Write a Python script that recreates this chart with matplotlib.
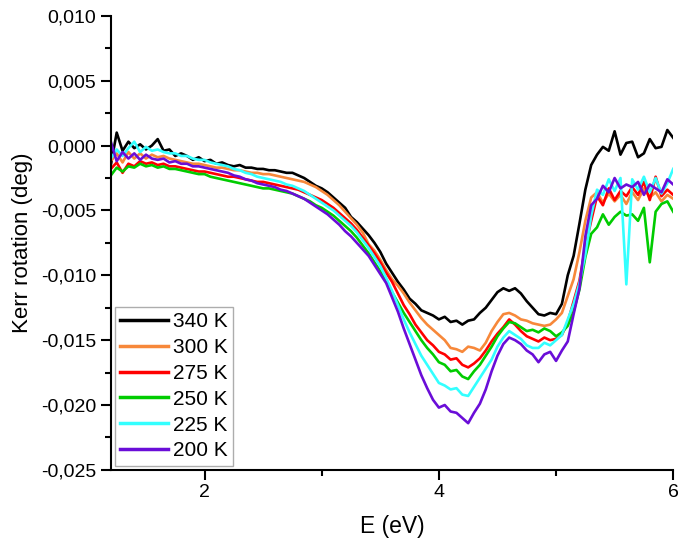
import numpy as np
import matplotlib
matplotlib.use("Agg")
import matplotlib.pyplot as plt
from matplotlib.ticker import MultipleLocator, FuncFormatter

plt.rcParams['font.family'] = ['Liberation Sans', 'DejaVu Sans']

# Photon energy grid (eV), 0.05 eV steps from 1.20 to 6.00
energy = np.round(np.arange(1.20, 6.0001, 0.05), 2)

# Kerr rotation in mdeg for each temperature
kerr_340 = [
    -1.5, 1.0, -0.4, 0.3, -0.2, 0.1, -0.3, 0.0, 0.5, -0.4,
    -0.3, -0.8, -0.6, -0.8, -1.1, -0.9, -1.2, -1.1, -1.4, -1.3,
    -1.5, -1.6, -1.5, -1.7, -1.7, -1.8, -1.8, -1.9, -1.9, -2.0,
    -2.1, -2.1, -2.3, -2.5, -2.8, -3.1, -3.3, -3.6, -4.0, -4.4,
    -4.8, -5.5, -5.9, -6.4, -6.9, -7.5, -8.2, -9.1, -9.8, -10.5,
    -11.1, -11.8, -12.2, -12.7, -12.9, -13.1, -13.4, -13.2, -13.6, -13.5,
    -13.8, -13.5, -13.4, -12.9, -12.5, -11.9, -11.3, -11.0, -11.2, -11.0,
    -11.4, -12.0, -12.5, -13.0, -13.1, -12.9, -13.0, -12.2, -10.0, -8.5,
    -6.0, -3.4, -1.5, -0.7, -0.1, -0.4, 1.1, -0.7, 0.2, 0.3,
    -0.9, -0.6, 0.5, -0.2, -0.1, 1.2, 0.6,
]
kerr_300 = [
    -1.2, -0.6, -1.3, -0.5, -1.0, -0.6, -1.0, -0.7, -0.9, -0.8,
    -1.0, -1.1, -1.2, -1.3, -1.4, -1.4, -1.5, -1.6, -1.7, -1.7,
    -1.8, -1.9, -1.9, -2.0, -2.1, -2.1, -2.2, -2.2, -2.3, -2.4,
    -2.5, -2.6, -2.7, -2.8, -3.0, -3.2, -3.5, -3.8, -4.2, -4.6,
    -5.1, -5.6, -6.1, -6.7, -7.6, -8.1, -8.8, -9.6, -10.3, -10.8,
    -11.4, -12.1, -12.7, -13.3, -13.8, -14.2, -14.6, -15.0, -15.6, -15.7,
    -15.9, -15.5, -15.6, -15.8, -15.2, -14.3, -13.6, -13.0, -12.9, -13.1,
    -13.4, -13.5, -13.7, -13.8, -13.9, -13.8, -13.4, -12.9, -11.6, -10.3,
    -8.2, -5.8, -4.0, -3.6, -4.4, -3.7, -4.3, -3.8, -4.5, -3.6,
    -4.2, -3.3, -4.0, -3.6, -4.3, -3.8, -4.1,
]
kerr_275 = [
    -1.8, -1.3, -2.1, -1.4, -1.6, -1.2, -1.4, -1.3, -1.5, -1.4,
    -1.6, -1.6, -1.7, -1.8, -1.9, -2.0, -2.0, -2.1, -2.2, -2.3,
    -2.4, -2.4, -2.5, -2.6, -2.7, -2.8, -2.8, -2.9, -3.0, -3.1,
    -3.2, -3.3, -3.4, -3.6, -3.8, -4.0, -4.2, -4.5, -4.8, -5.2,
    -5.6, -6.0, -6.5, -7.1, -7.7, -8.3, -9.0, -9.8, -10.5, -11.4,
    -12.3, -13.0, -13.8, -14.4, -15.0, -15.4, -15.9, -16.1, -16.5, -16.4,
    -16.9, -17.1, -16.8, -16.4, -15.8, -15.1, -14.5, -14.0, -13.4, -13.8,
    -14.3, -14.7, -14.9, -15.1, -14.8, -15.0, -14.9, -14.6, -13.6, -12.0,
    -10.4, -7.8, -5.8, -3.9, -4.6, -3.3, -4.2, -3.5, -3.9, -3.2,
    -3.8, -2.8, -4.2, -2.4, -3.9, -3.4, -3.8,
]
kerr_250 = [
    -2.3, -1.7, -2.0, -1.6, -1.7, -1.4, -1.6, -1.5, -1.7, -1.6,
    -1.8, -1.8, -1.9, -2.0, -2.1, -2.2, -2.2, -2.4, -2.5, -2.6,
    -2.7, -2.8, -2.9, -3.0, -3.1, -3.2, -3.3, -3.3, -3.4, -3.5,
    -3.6, -3.7, -3.9, -4.1, -4.3, -4.6, -4.8, -5.1, -5.4, -5.8,
    -6.2, -6.6, -7.1, -7.7, -8.3, -9.0, -9.7, -10.5, -11.3, -12.1,
    -12.9, -13.6, -14.3, -15.0, -15.6, -16.1, -16.7, -16.9, -17.4, -17.3,
    -17.8, -18.0, -17.4, -16.9, -16.2, -15.5, -14.7, -14.1, -13.6, -13.7,
    -14.0, -14.3, -14.2, -14.4, -14.1, -14.3, -14.7, -14.4, -13.9, -12.8,
    -11.1, -8.6, -6.8, -6.3, -5.3, -6.1, -5.5, -5.1, -5.4, -5.3,
    -5.8, -4.8, -9.0, -5.1, -4.5, -4.3, -5.1,
]
kerr_225 = [
    -1.0, -0.3, -0.8, -0.2, 0.3, -0.5, -0.1, -0.4, -0.3, -0.5,
    -0.6, -0.6, -0.8, -0.8, -1.0, -1.1, -1.1, -1.3, -1.4, -1.5,
    -1.6, -1.8, -1.9, -2.1, -2.2, -2.4, -2.5, -2.6, -2.7, -2.8,
    -3.0, -3.1, -3.3, -3.5, -3.8, -4.1, -4.4, -4.7, -5.0, -5.4,
    -5.8, -6.2, -6.7, -7.3, -7.9, -8.6, -9.3, -10.2, -11.2, -12.3,
    -13.4, -14.4, -15.3, -16.2, -16.9, -17.6, -18.3, -18.5, -18.8, -18.7,
    -19.2, -19.3, -18.6, -17.9, -17.2, -16.5, -15.5, -14.8, -14.3, -14.6,
    -14.9, -15.4, -15.6, -15.6, -15.2, -15.4, -15.0, -14.6, -13.4, -12.2,
    -10.6, -8.4, -5.4, -3.4, -3.8, -2.6, -3.5, -2.5, -10.7, -2.6,
    -3.4, -2.4, -3.6, -2.5, -3.7, -2.9, -1.8,
]
kerr_200 = [
    0.3, -1.2, -0.5, -1.0, -0.6, -1.1, -0.7, -1.0, -1.1, -1.0,
    -1.3, -1.2, -1.4, -1.4, -1.6, -1.6, -1.7, -1.8, -1.9, -2.0,
    -2.1, -2.3, -2.4, -2.6, -2.7, -2.9, -3.0, -3.1, -3.2, -3.4,
    -3.5, -3.7, -3.9, -4.1, -4.4, -4.7, -5.0, -5.3, -5.7, -6.1,
    -6.6, -7.0, -7.5, -8.0, -8.5, -9.2, -9.9, -10.6, -11.7, -12.8,
    -14.1, -15.3, -16.5, -17.7, -18.7, -19.6, -20.2, -20.0, -20.5, -20.6,
    -21.0, -21.4, -20.6, -19.9, -18.8, -17.4, -16.2, -15.3, -14.8, -15.0,
    -15.3, -15.8, -16.1, -16.7, -16.1, -15.9, -16.6, -15.8, -15.1, -13.0,
    -11.0, -7.0, -4.6, -4.1, -3.1, -3.6, -2.5, -3.3, -3.0, -3.2,
    -2.8, -3.8, -3.0, -3.3, -3.6, -2.6, -3.0,
]

labels = ['340 K', '300 K', '275 K', '250 K', '225 K', '200 K']
series = [kerr_340, kerr_300, kerr_275, kerr_250, kerr_225, kerr_200]
colors = ['#000000', '#F7883A', '#FF0000', '#00CC00', '#33FFFF', '#6A0DD8']

fig = plt.figure(figsize=(6.8, 5.47), dpi=100)
ax = fig.add_axes([0.163, 0.141, 0.827, 0.830])

for vals, lab, col in zip(series, labels, colors):
    ax.plot(energy, np.asarray(vals) / 1000.0, color=col, lw=1.9, label=lab)

ax.set_xlim(1.2, 6.0)
ax.set_ylim(-0.025, 0.010)

ax.xaxis.set_major_locator(MultipleLocator(2))
ax.xaxis.set_minor_locator(MultipleLocator(1))
ax.yaxis.set_major_locator(MultipleLocator(0.005))
ax.yaxis.set_minor_locator(MultipleLocator(0.0025))
ax.yaxis.set_major_formatter(FuncFormatter(lambda v, p: f"{v:.3f}".replace('.', ',').replace('-0,000', '0,000')))
ax.xaxis.set_major_formatter(FuncFormatter(lambda v, p: f"{v:g}"))

for side in ('top', 'right'):
    ax.spines[side].set_visible(False)
for side in ('left', 'bottom'):
    ax.spines[side].set_linewidth(1.5)

ax.tick_params(which='major', direction='out', length=7, width=1.5, labelsize=14)
ax.tick_params(which='minor', direction='out', length=4, width=1.5)

ax.set_xlabel('E (eV)', fontsize=16.5, labelpad=10)
ax.set_ylabel('Kerr rotation (deg)', fontsize=16, labelpad=6)

leg = ax.legend(loc='lower left', fontsize=15, frameon=True, fancybox=False,
                borderaxespad=0.2, handlelength=2.3, handletextpad=0.25,
                labelspacing=0.33, borderpad=0.25)
leg.get_frame().set_edgecolor('#999999')
leg.get_frame().set_linewidth(1.0)
for h in leg.get_lines():
    h.set_linewidth(2.5)

fig.savefig('out.png', dpi=100)
